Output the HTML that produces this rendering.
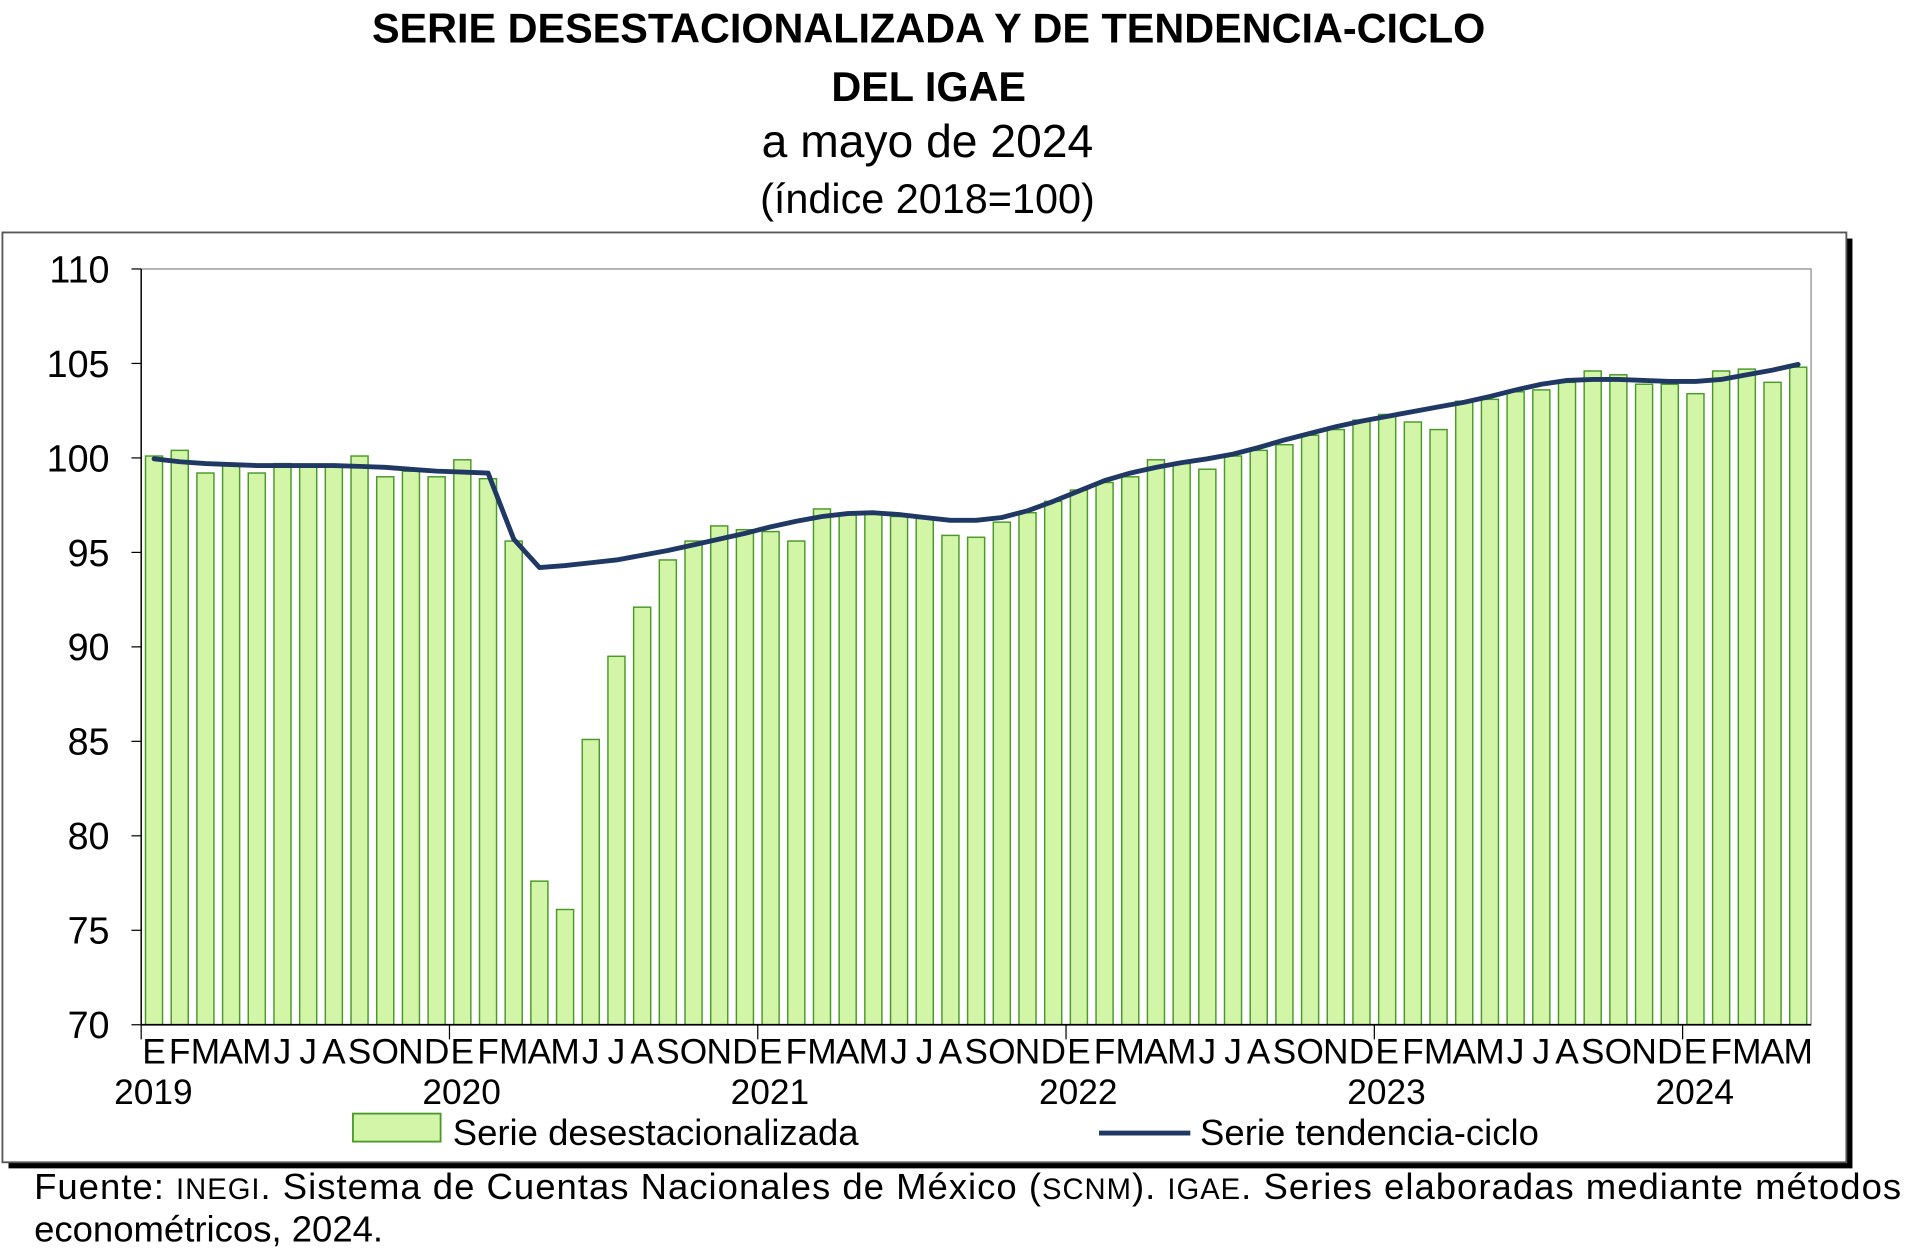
<!DOCTYPE html>
<html><head><meta charset="utf-8"><style>
html,body{margin:0;padding:0;background:#fff;}
svg{display:block;}
text{font-family:"Liberation Sans",Arial,sans-serif;fill:#000;}
</style></head><body>
<svg id="s" xmlns="http://www.w3.org/2000/svg" width="1906" height="1256" viewBox="0 0 1566 1032" preserveAspectRatio="none">
<text x="763" y="35" font-size="34" font-weight="bold" text-anchor="middle">SERIE DESESTACIONALIZADA Y DE TENDENCIA-CICLO</text>
<text x="763" y="83" font-size="34" font-weight="bold" text-anchor="middle">DEL IGAE</text>
<text x="762" y="129" font-size="38" text-anchor="middle">a mayo de 2024</text>
<text x="762" y="175" font-size="34" text-anchor="middle">(índice 2018=100)</text>
<rect x="7" y="196" width="1515" height="764" fill="#000"/>
<rect x="2" y="191" width="1515" height="764" fill="#fff" stroke="#555" stroke-width="1.5"/>
<rect x="116" y="221" width="1372" height="621" fill="#fff" stroke="#888" stroke-width="1"/>
<g id="bars"></g>
<polyline id="trend" fill="none" stroke="#1f3864" stroke-width="4" stroke-linejoin="round" stroke-linecap="round"/>
<g id="axes"></g>
<rect x="290" y="915" width="72" height="23" fill="#d3f5a8" stroke="#4a9a2a" stroke-width="1.5"/>
<text x="372" y="941" font-size="30">Serie desestacionalizada</text>
<line x1="903" y1="931" x2="978" y2="931" stroke="#1f3864" stroke-width="4"/>
<text x="986" y="941" font-size="30">Serie tendencia-ciclo</text>
<text x="28" y="985" font-size="30" textLength="1534" lengthAdjust="spacing">Fuente: <tspan font-size="24">INEGI</tspan>. Sistema de Cuentas Nacionales de México (<tspan font-size="24">SCNM</tspan>). <tspan font-size="24">IGAE</tspan>. Series elaboradas mediante métodos</text>
<text x="28" y="1020" font-size="30">econométricos, 2024.</text>
</svg>
<script>
var bars=[100.1,100.4,99.2,99.6,99.2,99.7,99.6,99.6,100.1,99.0,99.3,99.0,
99.9,98.9,95.6,77.6,76.1,85.1,89.5,92.1,94.6,95.6,96.4,96.2,
96.1,95.6,97.3,97.0,97.1,96.9,96.8,95.9,95.8,96.6,97.1,97.7,
98.3,98.7,99.0,99.9,99.7,99.4,100.1,100.4,100.7,101.2,101.5,102.0,
102.3,101.9,101.5,103.0,103.1,103.5,103.6,104.0,104.6,104.4,103.9,103.9,
103.4,104.6,104.7,104.0,104.8];
var tr=[99.95,99.8,99.7,99.65,99.6,99.6,99.6,99.6,99.55,99.5,99.4,99.3,
99.25,99.2,95.7,94.2,94.3,94.45,94.6,94.85,95.1,95.4,95.7,96.0,
96.35,96.65,96.9,97.05,97.1,97.0,96.85,96.7,96.7,96.85,97.2,97.7,
98.25,98.8,99.2,99.5,99.75,99.95,100.2,100.55,100.95,101.3,101.65,101.95,
102.2,102.45,102.7,102.95,103.25,103.6,103.9,104.1,104.15,104.15,104.1,104.05,
104.05,104.15,104.4,104.65,104.95];
var NS="http://www.w3.org/2000/svg";
function Y(v){return 842-(v-70)*15.525;}
var X0=116,W=1372/65;
function el(t,a,p,txt){var e=document.createElementNS(NS,t);for(var k in a)e.setAttribute(k,a[k]);if(txt)e.textContent=txt;p.appendChild(e);return e;}
var gb=document.getElementById('bars'),ga=document.getElementById('axes');
bars.forEach(function(v,i){var cx=X0+W*(i+0.5);el('rect',{x:cx-7,y:Y(v),width:14,height:842-Y(v),fill:'#d3f5a8',stroke:'#4a9a2a','stroke-width':1.2},gb);});
document.getElementById('trend').setAttribute('points',tr.map(function(v,i){return (X0+W*(i+0.5)).toFixed(1)+','+Y(v).toFixed(1);}).join(' '));
el('line',{x1:116,y1:221,x2:116,y2:842,stroke:'#000','stroke-width':1.2},ga);
el('line',{x1:116,y1:842,x2:1488,y2:842,stroke:'#000','stroke-width':1.5},ga);
for(var v=70;v<=110;v+=5){var y=Y(v);el('line',{x1:108,y1:y,x2:116,y2:y,stroke:'#000','stroke-width':1},ga);el('text',{x:90,y:y+11,'font-size':31,'text-anchor':'end'},ga,String(v));}
var ml="EFMAMJJASOND";
for(var i=0;i<65;i++){var cx=X0+W*(i+0.5);el('text',{x:cx,y:874,'font-size':29,'text-anchor':'middle'},ga,ml[i%12]);}
for(var yr=0;yr<6;yr++){var x=X0+W*12*yr;el('line',{x1:x,y1:842,x2:x,y2:854,stroke:'#000','stroke-width':1},ga);el('text',{x:x+10,y:907,'font-size':29,'text-anchor':'middle'},ga,String(2019+yr));}
</script>
</body></html>
